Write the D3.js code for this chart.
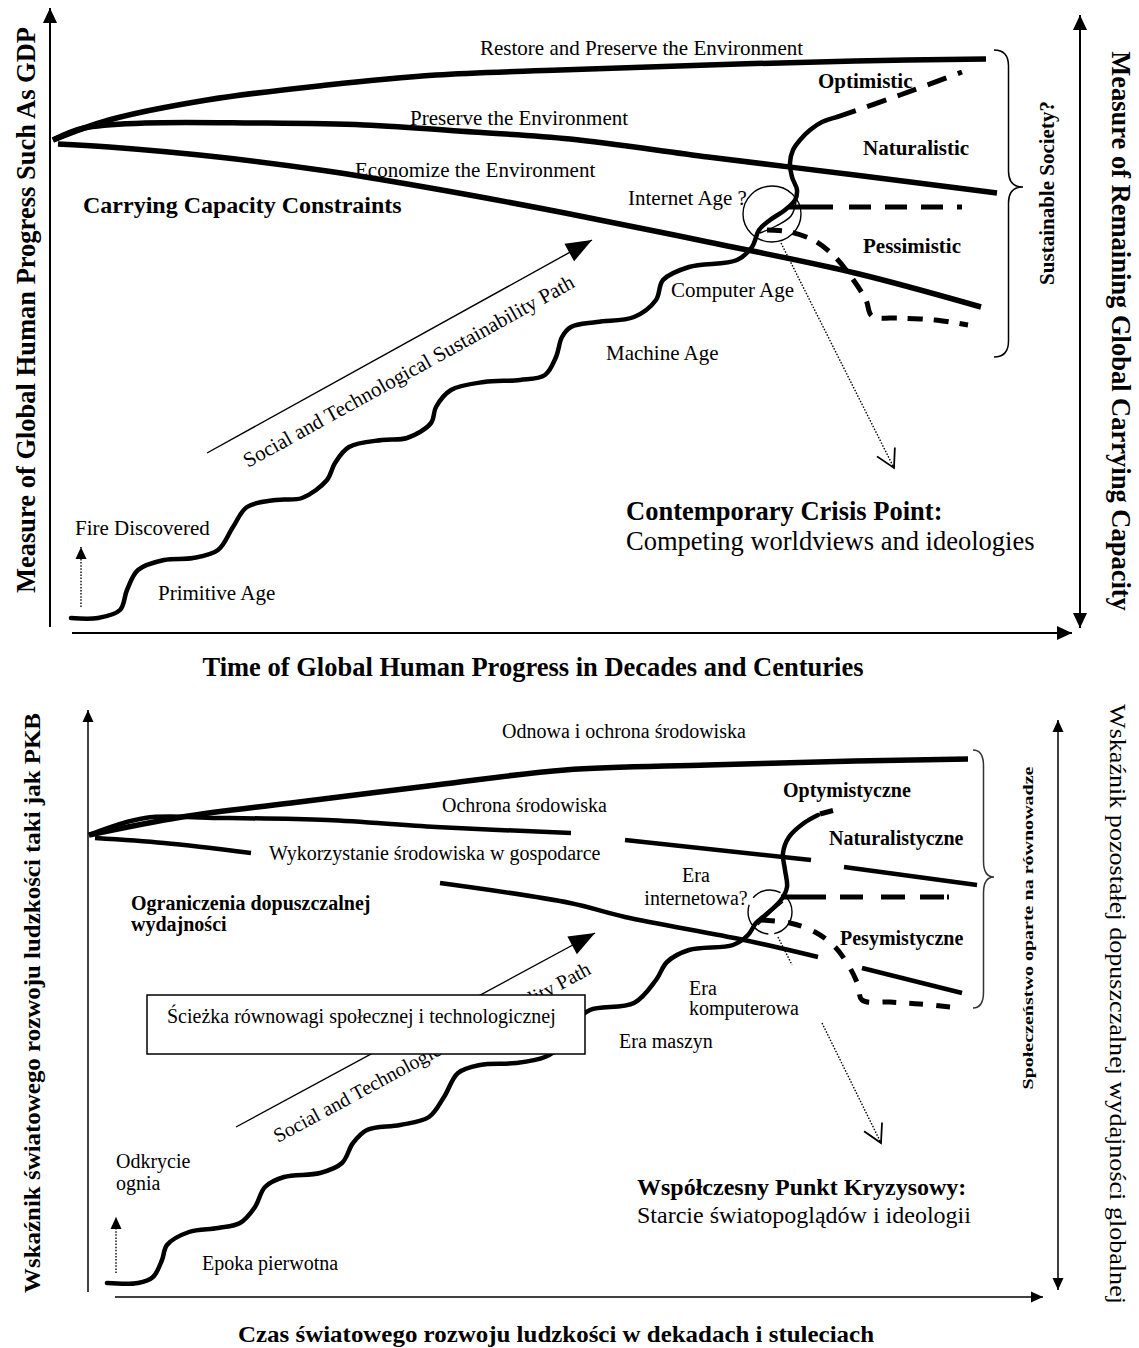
<!DOCTYPE html>
<html>
<head>
<meta charset="utf-8">
<title>Sustainability path</title>
<script src="https://cdn.jsdelivr.net/npm/d3@7"></script>
<style>
  body { margin: 0; background: #fff; }
  svg { display: block; font-family: "Liberation Serif", "Times New Roman", serif; }
  text { fill: #000; }
  .bold { font-weight: bold; }
  .thick { fill: none; stroke: #000; stroke-width: 5.5; }
  .mid { fill: none; stroke: #000; stroke-width: 4.5; }
  .wave { fill: none; stroke: #000; stroke-width: 4.5; stroke-linecap: round; }
  .dash { fill: none; stroke: #000; stroke-width: 5; }
  .axis { fill: none; stroke: #000; stroke-width: 2; }
  .axis2 { fill: none; stroke: #000; stroke-width: 1.5; }
  .thin { fill: none; stroke: #000; stroke-width: 1.4; }
  .dots { fill: none; stroke: #000; stroke-width: 1.4; stroke-dasharray: 1.5 1.6; }
</style>
</head>
<body>
<script>
// ---------- top panel (English), units: time 0-100, progress 0-120 ----------
var topAxisY = [[0, 0.6], [0, 124.4]];
var topAxisX = [[2.2, -0.6], [102.2, -0.6]];
var topAxisR = [[103, 0.4], [103, 123]];

var topRestore = [[0.3, 98], [5.9, 102], [15.7, 106], [27.7, 109], [38.6, 111], [51, 112], [65.8, 113], [80.5, 113.8], [93.6, 114.2]];
var topPreserve = [[0.3, 98], [3.4, 100.4], [9.5, 101.4], [20.5, 101.4], [31.4, 101], [42.3, 99.6], [52, 98.2], [65.8, 94.6], [80.5, 91], [94.7, 87.4]];
var topEconomize = [[0.8, 97.2], [5.9, 96.6], [16.8, 94.6], [27.7, 91.8], [38.6, 88.2], [51.5, 83.4], [65.8, 77.6], [80.5, 71.4], [93.1, 64.6]];

var topPath = [[2.1, 2.4], [4.8, 2.4], [7.0, 4.0], [7.7, 8.0], [8.8, 12.0], [11.4, 14.0], [14.3, 14.4], [16.8, 16.0],
  [18.3, 20.6], [19.7, 24.6], [22.6, 26.0], [25.2, 26.4], [27.7, 30.0], [28.5, 33.4], [29.9, 36.6], [33.2, 38.0],
  [35.7, 38.4], [38.1, 41.4], [38.6, 44.6], [40.1, 48.0], [43.4, 49.6], [47.0, 50.0], [49.5, 51.0], [50.6, 54.6],
  [51.2, 58.6], [52.1, 60.6], [54.7, 61.6], [58.4, 62.6], [60.6, 66.0], [61.3, 70.0], [63.9, 72.6], [68.7, 74.0],
  [70.2, 76.6], [70.9, 80.0], [72.0, 82.0], [73.5, 84.0], [74.5, 86.0], [74.7, 88.0], [74.2, 90.6], [74.0, 93.4],
  [74.3, 96.0], [75.0, 98.0], [76.0, 100.0], [77.2, 101.6], [78.7, 102.6]];
var topSpindle = [[71.0, 79.4], [72.6, 80.8], [74.1, 82.8], [74.6, 85.6]];

var topOptimistic = [[78.7, 102.6], [85, 107], [91.2, 111.6]];
var topNaturalistic = [[73.9, 84.6], [91.8, 84.6]];
var topPessimistic = [[71.7, 80.0], [74.0, 79.6], [76.5, 77.8], [78.5, 74.6], [80.2, 70.4], [81.6, 66.0], [82.2, 62.8], [85.0, 62.4], [88.5, 62.0], [91.8, 61.0]];

var topCrisis = [72.2, 83.2, 2.9];
var topPointer = [[73.1, 77.4], [84.4, 32.4]];
var topSocial = [[15.7, 35.4], [54.2, 78.0]];
var topFire = [[3.1, 4.6], [3.1, 16.6]];
var topBrace = [[94.4, 116], [97.3, 88.6], [94.4, 54.6]];

var topLabels = [
  ["Restore and Preserve the Environment", 43, 115],
  ["Preserve the Environment", 36, 101],
  ["Economize the Environment", 30.5, 90.6],
  ["Internet Age ?", 57.8, 85],
  ["Computer Age", 62.1, 66.6],
  ["Machine Age", 55.6, 54],
  ["Fire Discovered", 2.5, 19],
  ["Primitive Age", 10.8, 6]
];
var topScenarios = [
  ["Optimistic", 76.8, 108.4],
  ["Naturalistic", 81.3, 95],
  ["Pessimistic", 81.3, 75.4]
];
var topConstraint = ["Carrying Capacity Constraints", 3.3, 83.4];
var topCrisisText = [["Contemporary Crisis Point:", 57.6, 22], ["Competing worldviews and ideologies", 57.6, 16]];
var topSocialText = ["Social and Technological Sustainability Path", 19.8, 32.4];
var topTitles = [
  ["Measure of Global Human Progress Such As GDP", -1.5, 64],
  ["Measure of Remaining Global Carrying Capacity", 106.2, 59.8],
  ["Time of Global Human Progress in Decades and Centuries", 48.3, -9.2],
  ["Sustainable Society?", 100.4, 87.4]
];

// ---------- bottom panel (Polish), units: time 0-100, progress 0-120 ----------
var botAxisY = [[0, 0.6], [0, 117]];
var botAxisX = [[2.7, -0.4], [95.5, -0.4]];
var botAxisR = [[97, 1], [97, 115]];

var botRestore = [[0.1, 92], [9.4, 95.6], [20.3, 98.4], [34.8, 102], [47.7, 105], [62, 106], [76.7, 106.8], [88, 107.2]];
var botPreserve = [
  [[0.1, 92], [5.7, 95.4], [13, 95.4], [23.9, 95], [34.8, 93.6], [48.3, 92.4]],
  [[53.7, 91], [72.3, 87]],
  [[75.6, 85.6], [88.9, 82]]
];
var botEconomize = [
  [[0.7, 91.4], [7.6, 90.4], [16.3, 88.4]],
  [[35.2, 82.4], [48.2, 78.4], [53.7, 75.6], [65.6, 71], [73, 67.6]],
  [[77.4, 65.4], [87.4, 60.4]]
];

var botPath = [[1.9, 2.4], [5.0, 2.4], [6.5, 3.6], [7.4, 7.0], [7.9, 10.0], [10.1, 12.6], [13.0, 13.4], [15.2, 14.4],
  [16.7, 17.6], [17.7, 21.6], [19.6, 23.6], [23.2, 24.4], [25.4, 26.4], [26.5, 30.4], [27.9, 33.0], [31.2, 34.0],
  [34.1, 35.6], [35.6, 39.6], [37.0, 44.4], [39.2, 46.0], [42.8, 46.4], [45.7, 47.6], [47.2, 49.6], [48.7, 54.6],
  [50.2, 57.0], [54.6, 58.4], [56.8, 63.0], [57.9, 66.6], [60.1, 69.0], [64.5, 70.0], [66.0, 72.0], [66.8, 74.4],
  [67.5, 75.6], [69.3, 79.0], [69.9, 81.6], [69.7, 85.0], [69.5, 88.4], [70.1, 91.6], [71.6, 94.4], [73.0, 96.0]];
var botSpindle = [[67.0, 74.0], [68.2, 76.4], [69.5, 78.6]];

var botOptimistic = [[73.2, 96.2], [74.5, 96.9]];
var botNaturalistic = [[69.3, 79.6], [86.1, 79.6]];
var botPessimistic = [[67.3, 75.0], [70.2, 74.4], [72.7, 72.6], [74.7, 69.6], [76.2, 65.4], [77.0, 62.0], [77.4, 59.0], [80.2, 58.6], [83.2, 58.2], [86.2, 57.6]];

var botCrisis = [68.2, 76.6, 2.2];
var botPointer = [[[69.0, 71.6], [70.4, 66.0]], [[73.4, 54.4], [79.3, 30.4]]];
var botSocial = [[14.8, 33.6], [50.7, 72.4]];
var botFire = [[2.8, 4.4], [2.8, 15.6]];
var botBrace = [[88.5, 109], [90.6, 83.6], [88.5, 57.4]];
var botBox = [[5.9, 60], [49.7, 48.2]];

var botLabels = [
  ["Odnowa i ochrona środowiska", 41.4, 111.4],
  ["Ochrona środowiska", 35.4, 96.6],
  ["Wykorzystanie środowiska w gospodarce", 18.1, 87],
  ["Era", 60.1, 60],
  ["komputerowa", 60.1, 56],
  ["Era maszyn", 53.1, 49.4],
  ["Odkrycie", 2.8, 25.4],
  ["ognia", 2.8, 21],
  ["Epoka pierwotna", 11.4, 5]
];
var botCentered = [["Era", 60.8, 82.6], ["internetowa?", 60.8, 78]];
var botScenarios = [
  ["Optymistyczne", 69.5, 99.6],
  ["Naturalistyczne", 74.1, 90],
  ["Pesymistyczne", 75.2, 70],
  ["Ograniczenia dopuszczalnej", 4.3, 77],
  ["wydajności", 4.3, 72.8]
];
var botCrisisText = [["Współczesny Punkt Kryzysowy:", 54.9, 20], ["Starcie światopoglądów i ideologii", 54.9, 14.4]];
var botBoxText = ["Ścieżka równowagi społecznej i technologicznej", 7.9, 54.4];
var botSocialText = ["Social and Technological Sustainability Path", 19.0, 30.4];
var botTitles = [
  ["Wskaźnik światowego rozwoju ludzkości taki jak PKB", -4.8, 58.4],
  ["Wskaźnik pozostałej dopuszczalnej wydajności globalnej", 102.2, 58.2],
  ["Czas światowego rozwoju  ludzkości w dekadach i stuleciach", 46.8, -9.4],
  ["Społeczeństwo oparte na równowadze", 94.5, 73.4]
];

// ---------- drawing ----------
var W = 1139, H = 1348;
var svg = d3.select("body").append("svg").attr("width", W).attr("height", H);
svg.append("rect").attr("width", W).attr("height", H).attr("fill", "#fff");

var defs = svg.append("defs");
function marker(id, len, wid, open) {
  var m = defs.append("marker").attr("id", id)
      .attr("viewBox", "0 0 10 10")
      .attr("refX", 10).attr("refY", 5)
      .attr("markerWidth", len).attr("markerHeight", wid)
      .attr("markerUnits", "userSpaceOnUse")
      .attr("preserveAspectRatio", "none")
      .attr("orient", "auto-start-reverse")
      .style("overflow", "visible");
  m.append("path")
      .attr("d", open ? "M0,0 L10,5 L0,10" : "M0,0 L10,5 L0,10 z")
      .attr("fill", open ? "none" : "#000")
      .attr("stroke", open ? "#000" : "none")
      .attr("stroke-width", open ? 0.9 : 0);
}
marker("head", 15, 14);
marker("headSmall", 12, 11);
marker("headBig", 26, 20);
marker("open", 18, 20, true);

var tx = d3.scaleLinear([0, 100], [50, 1050]);
var ty = d3.scaleLinear([0, 120], [630, 30]);
var bx = d3.scaleLinear([0, 100], [88, 1088]);
var by = d3.scaleLinear([0, 100], [1295, 795]);

function smooth(sx, sy) {
  return d3.line().x(function(d) { return sx(d[0]); }).y(function(d) { return sy(d[1]); })
      .curve(d3.curveCatmullRom.alpha(0.5));
}
function straight(sx, sy) {
  return d3.line().x(function(d) { return sx(d[0]); }).y(function(d) { return sy(d[1]); });
}

function brace(g, sx, sy, b, color) {
  var x0 = sx(b[0][0]), y0 = sy(b[0][1]),
      xt = sx(b[1][0]), yt = sy(b[1][1]),
      x1 = sx(b[2][0]), y1 = sy(b[2][1]);
  var xs = x0 + (xt - x0) * 0.5, r = 16;
  var p = d3.path();
  p.moveTo(x0, y0);
  p.quadraticCurveTo(xs, y0, xs, y0 + r);
  p.lineTo(xs, yt - r);
  p.quadraticCurveTo(xs, yt, xt, yt);
  p.quadraticCurveTo(xs, yt, xs, yt + r);
  p.lineTo(xs, y1 - r);
  p.quadraticCurveTo(xs, y1, x1, y1);
  g.append("path").attr("d", p.toString()).attr("fill", "none").attr("stroke", color).attr("stroke-width", 1.5);
}

function label(g, sx, sy, d, size, bold, anchor) {
  return g.append("text")
      .attr("x", sx(d[1])).attr("y", sy(d[2]))
      .attr("font-size", size)
      .attr("class", bold ? "bold" : null)
      .attr("text-anchor", anchor || "start")
      .text(d[0]);
}
function rotLabel(g, sx, sy, d, angle, size, bold, len) {
  var t = g.append("text")
      .attr("transform", "translate(" + sx(d[1]) + "," + sy(d[2]) + ") rotate(" + angle + ")")
      .attr("font-size", size)
      .attr("class", bold ? "bold" : null)
      .attr("text-anchor", "middle")
      .text(d[0]);
  if (len) t.attr("textLength", len).attr("lengthAdjust", "spacingAndGlyphs");
  return t;
}
function slope(sx, sy, seg) {
  return Math.atan2(sy(seg[1][1]) - sy(seg[0][1]), sx(seg[1][0]) - sx(seg[0][0])) * 180 / Math.PI;
}

// ----- top panel -----
var gT = svg.append("g");
var tS = smooth(tx, ty), tL = straight(tx, ty);

gT.append("path").datum(topAxisY).attr("class", "axis").attr("d", tL).attr("marker-end", "url(#head)");
gT.append("path").datum(topAxisX).attr("class", "axis").attr("d", tL).attr("marker-end", "url(#head)");
gT.append("path").datum(topAxisR).attr("class", "axis").attr("d", tL)
    .attr("marker-start", "url(#head)").attr("marker-end", "url(#head)");

[topRestore, topPreserve, topEconomize].forEach(function(d) {
  gT.append("path").datum(d).attr("class", "thick").attr("d", tS);
});

gT.append("path").datum(topSocial).attr("class", "thin").attr("d", tL).attr("marker-end", "url(#headBig)");
gT.append("path").datum(topFire).attr("class", "dots").attr("d", tL).attr("marker-end", "url(#headSmall)");

gT.append("path").datum(topPath).attr("class", "wave").attr("d", tS);
gT.append("path").datum(topSpindle).attr("class", "thin").attr("stroke-width", 3).attr("d", tS);

gT.append("path").datum(topOptimistic).attr("class", "dash").attr("stroke-dasharray", "20 12").attr("d", tS);
gT.append("path").datum(topNaturalistic).attr("class", "dash")
    .attr("stroke-dasharray", "44 16 22 14 22 14 22 14 5 60").attr("d", tL);
gT.append("path").datum(topPessimistic).attr("class", "dash").attr("stroke-dasharray", "15 11").attr("d", tS);

gT.append("ellipse")
    .attr("cx", tx(topCrisis[0])).attr("cy", ty(topCrisis[1]))
    .attr("rx", tx(topCrisis[2]) - tx(0)).attr("ry", tx(topCrisis[2]) - tx(0) - 1)
    .attr("class", "thin");
gT.append("path").datum(topPointer).attr("class", "dots").attr("d", tL).attr("marker-end", "url(#open)");

brace(gT, tx, ty, topBrace, "#000");

topLabels.forEach(function(d) { label(gT, tx, ty, d, 21); });
topScenarios.forEach(function(d) { label(gT, tx, ty, d, 21, true); });
label(gT, tx, ty, topConstraint, 24, true);
label(gT, tx, ty, topCrisisText[0], 26.5, true);
label(gT, tx, ty, topCrisisText[1], 26.5);

gT.append("text")
    .attr("transform", "translate(" + tx(topSocialText[1]) + "," + ty(topSocialText[2]) + ") rotate(" + slope(tx, ty, topSocial) + ")")
    .attr("font-size", 21).text(topSocialText[0]);

rotLabel(gT, tx, ty, topTitles[0], -90, 26.5, true);
rotLabel(gT, tx, ty, topTitles[1], 90, 26.5, true);
rotLabel(gT, tx, ty, topTitles[2], 0, 26.5, true);
rotLabel(gT, tx, ty, topTitles[3], -90, 21, true);

// ----- bottom panel -----
var gB = svg.append("g");
var bS = smooth(bx, by), bL = straight(bx, by);

gB.append("path").datum(botAxisY).attr("class", "axis2").attr("d", bL).attr("marker-end", "url(#headSmall)");
gB.append("path").datum(botAxisX).attr("class", "axis2").attr("d", bL).attr("marker-end", "url(#headSmall)");
gB.append("path").datum(botAxisR).attr("class", "axis2").attr("d", bL)
    .attr("marker-start", "url(#headSmall)").attr("marker-end", "url(#headSmall)");

gB.append("path").datum(botRestore).attr("class", "thick").attr("d", bS);
botPreserve.forEach(function(d) { gB.append("path").datum(d).attr("class", "mid").attr("d", bS); });
botEconomize.forEach(function(d) { gB.append("path").datum(d).attr("class", "mid").attr("d", bS); });

gB.append("path").datum(botSocial).attr("class", "thin").attr("d", bL).attr("marker-end", "url(#headBig)");
gB.append("path").datum(botFire).attr("class", "dots").attr("d", bL).attr("marker-end", "url(#headSmall)");
gB.append("text")
    .attr("transform", "translate(" + bx(botSocialText[1]) + "," + by(botSocialText[2]) + ") rotate(" + slope(bx, by, botSocial) + ")")
    .attr("font-size", 20).text(botSocialText[0]);

gB.append("path").datum(botPath).attr("class", "wave").attr("stroke-width", 4).attr("d", bS);
gB.append("path").datum(botSpindle).attr("class", "thin").attr("stroke-width", 2.5).attr("d", bS);

gB.append("path").datum(botOptimistic).attr("class", "dash").attr("stroke-width", 4).attr("d", bL);
gB.append("path").datum(botNaturalistic).attr("class", "dash").attr("stroke-width", 4)
    .attr("stroke-dasharray", "45 14 23 18 24 15 24 3 3 60").attr("d", bL);
gB.append("path").datum(botPessimistic).attr("class", "dash").attr("stroke-width", 4)
    .attr("stroke-dasharray", "14 13").attr("d", bS);

gB.append("ellipse")
    .attr("cx", bx(botCrisis[0])).attr("cy", by(botCrisis[1]))
    .attr("rx", bx(botCrisis[2]) - bx(0)).attr("ry", bx(botCrisis[2]) - bx(0))
    .attr("class", "thin").attr("stroke-width", 1).attr("stroke-dasharray", "30 6 40 8");
botPointer.forEach(function(d, i) {
  gB.append("path").datum(d).attr("class", "dots").attr("stroke-width", 1.2).attr("d", bL)
      .attr("marker-end", i === botPointer.length - 1 ? "url(#open)" : null);
});

brace(gB, bx, by, botBrace, "#333");

// box hides part of the path and arrow, as in the original
gB.append("rect")
    .attr("x", bx(botBox[0][0])).attr("y", by(botBox[0][1]))
    .attr("width", bx(botBox[1][0]) - bx(botBox[0][0]))
    .attr("height", by(botBox[1][1]) - by(botBox[0][1]))
    .attr("fill", "#fff").attr("stroke", "#000").attr("stroke-width", 1.5);
label(gB, bx, by, botBoxText, 20);

botLabels.forEach(function(d) { label(gB, bx, by, d, 20); });
botCentered.forEach(function(d) { label(gB, bx, by, d, 20, false, "middle"); });
botScenarios.forEach(function(d) { label(gB, bx, by, d, 20, true); });
label(gB, bx, by, botCrisisText[0], 24, true);
label(gB, bx, by, botCrisisText[1], 24);

rotLabel(gB, bx, by, botTitles[0], -90, 24, true, 580);
rotLabel(gB, bx, by, botTitles[1], 90, 24, false, 600);
rotLabel(gB, bx, by, botTitles[2], 0, 23, true, 636);
rotLabel(gB, bx, by, botTitles[3], -90, 15, true, 323);
</script>
</body>
</html>
